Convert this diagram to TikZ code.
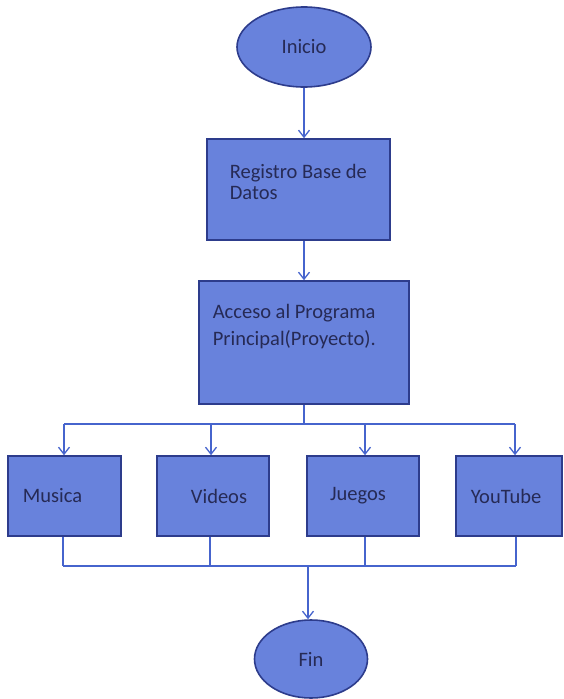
\documentclass[tikz,border=0pt]{standalone}
\usepackage{fontspec}
\setmainfont{Carlito}
\usetikzlibrary{arrows.meta, positioning, shapes.geometric}
\definecolor{boxfill}{RGB}{104,130,220}
\definecolor{boxline}{RGB}{45,60,140}
\definecolor{wire}{RGB}{70,100,205}
\definecolor{ink}{RGB}{38,42,85}

\begin{document}
\begin{tikzpicture}[x=1pt, y=1pt, draw=wire, line width=1.3pt, >={Straight Barb[length=7pt,width=11pt]}]
    \tikzstyle{txt}=[text=ink, font=\fontsize{20.5}{25}\selectfont, inner sep=0pt, align=left]
    \tikzstyle{block}=[rectangle, fill=boxfill, draw=boxline, line width=1.6pt, inner sep=0pt]
    \tikzstyle{terminal}=[ellipse, fill=boxfill, draw=boxline, line width=1.6pt, inner sep=0pt, txt]
    \tikzstyle{flow}=[->, draw=wire, line width=1.3pt]

    \useasboundingbox (0,0) rectangle (564,-699);

    \node[terminal, minimum width=134, minimum height=80] (ini) at (304,-47) {Inicio};

    \node[block, minimum width=183, minimum height=101] (reg) at (298.5,-189.5) {};
    \node[txt, anchor=north west, font=\fontsize{20.5}{21}\selectfont] (reg-t) at ([shift={(23,-25)}]reg.north west) {Registro Base de\\Datos};

    \node[block, minimum width=210, minimum height=123] (acc) at (304,-342.5) {};
    \node[txt, anchor=north west, font=\fontsize{20.5}{27}\selectfont] (acc-t) at ([shift={(14,-23)}]acc.north west) {Acceso al Programa\\Principal(Proyecto).};

    \node[terminal, minimum width=113, minimum height=78] (fin) at (311,-659) {Fin};

    \path (ini.south) edge[flow] (ini.south |- reg.north);
    \path (ini.south |- reg.south) edge[flow] (ini.south |- acc.north);
    \draw (acc.south) -- (acc.south |- 0,-424);

	\foreach \n/\x/\w/\s/\a/\b/\t in {mus/64.5/113/-12/64/63/Musica, vid/213/112/6/211/210/Videos, jue/363/112/-5/365/365/Juegos, you/509/106/-3/515/516/YouTube}{
		\node[block, minimum width=\w, minimum height=80] (\n) at (\x,-496) {};
		\node[txt] (\n-t) at ([xshift=\s]\n.center) {\t};
		\coordinate (top-\n) at (\a,-424);
		\coordinate (bot-\n) at (\b,-566);
		\path (top-\n) edge[flow] (top-\n |- \n.north);
		\draw (\n.south -| bot-\n) -- (bot-\n);
	}

		\draw (top-mus) -- (top-you);
		\draw (bot-mus) -- (bot-you);
		\coordinate (join) at (308,-566);
		\path (join) edge[flow] (join |- fin.north);
\end{tikzpicture}
\end{document}
